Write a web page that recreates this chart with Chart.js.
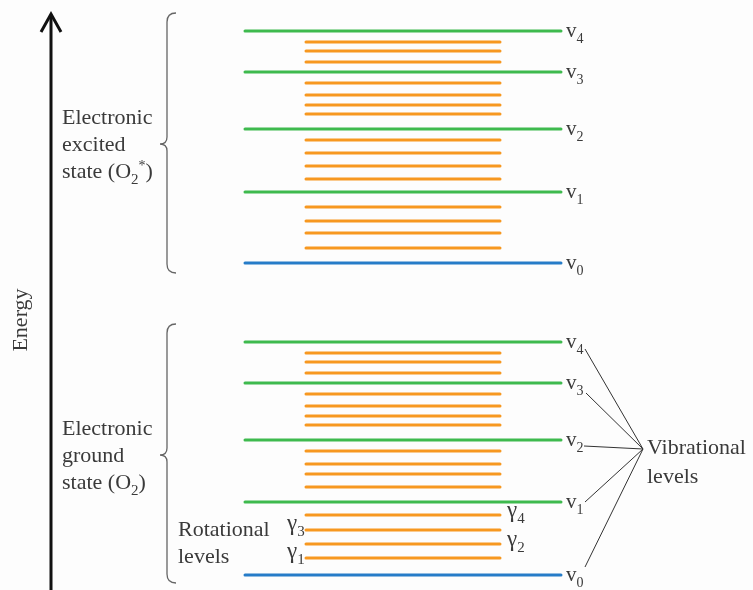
<!DOCTYPE html>
<html>
<head>
<meta charset="utf-8">
<script src="https://cdn.jsdelivr.net/npm/chart.js@4"></script>
<style>
  html, body { margin: 0; padding: 0; background: #fdfdfd; }
  canvas { display: block; }
</style>
</head>
<body>
<canvas id="levels" width="753" height="590"></canvas>
<script>
// energy values, arbitrary units (ground v0 = 0)
var groundVib = [0, 73, 135, 192, 233];               // v0..v4
var groundRot = [[17, 31, 45, 60], [88, 101, 111, 124], [150, 159, 169, 181], [202, 213, 222]];
var excitedVib = [312, 383, 446, 503, 544];
var excitedRot = [[327, 342, 354, 368], [396, 409, 422, 435], [461, 470, 480, 492], [513, 524, 533]];
var vibLabels = ["0", "1", "2", "3", "4"];
var gammaLabels = ["1", "2", "3", "4"];   // ground rotational lines between v0 and v1

var VIB_X = [245, 561];
var ROT_X = [306, 500];
var FONT = '"Liberation Serif", "DejaVu Serif", serif';
var INK = "#3a3a3a";

// build segments separated by gaps
function segs(levels, xr) {
  var pts = [];
  levels.forEach(function (e) {
    pts.push({x: xr[0], y: e}, {x: xr[1], y: e}, {x: xr[1], y: null});
  });
  return pts;
}
var rotAll = [];
groundRot.concat(excitedRot).forEach(function (g) { rotAll = rotAll.concat(g); });

function lineSet(data, color, width) {
  return {
    data: data, showLine: true, borderColor: color, backgroundColor: color,
    borderWidth: width, pointRadius: 0, spanGaps: false, borderCapStyle: "round"
  };
}

function drawSub(ctx, x, y, main, sub, size) {
  ctx.font = size + "px " + FONT;
  ctx.fillText(main, x, y);
  var w = ctx.measureText(main).width;
  ctx.font = Math.round(size * 0.66) + "px " + FONT;
  ctx.fillText(sub, x + w, y + size * 0.27);
  return x + w + ctx.measureText(sub).width;
}

function brace(ctx, x, top, mid, bottom) {
  ctx.beginPath();
  ctx.moveTo(x + 9, top);
  ctx.quadraticCurveTo(x, top, x, top + 9);
  ctx.lineTo(x, mid - 7);
  ctx.quadraticCurveTo(x, mid, x - 7, mid);
  ctx.quadraticCurveTo(x, mid, x, mid + 7);
  ctx.lineTo(x, bottom - 9);
  ctx.quadraticCurveTo(x, bottom, x + 9, bottom);
  ctx.stroke();
}

var annotate = {
  id: "annotate",
  beforeDraw: function (chart) {
    var c = chart.ctx;
    c.save();
    c.fillStyle = "#fdfdfd";
    c.fillRect(0, 0, chart.width, chart.height);
    c.restore();
  },
  afterDraw: function (chart) {
    var c = chart.ctx, ys = chart.scales.y;
    c.save();
    // energy arrow
    c.strokeStyle = "#111";
    c.lineWidth = 3;
    c.beginPath();
    c.moveTo(51, 590); c.lineTo(51, 15);
    c.stroke();
    c.beginPath();
    c.moveTo(41, 32); c.lineTo(51, 14); c.lineTo(61, 32);
    c.stroke();

    c.fillStyle = INK;
    c.save();
    c.translate(27, 320);
    c.rotate(-Math.PI / 2);
    c.font = "22px " + FONT;
    c.textAlign = "center";
    c.fillText("Energy", 0, 0);
    c.restore();

    // braces
    c.strokeStyle = "#666";
    c.lineWidth = 1.3;
    brace(c, 167, 13, 144, 273);
    brace(c, 167, 324, 455, 583);

    // state labels
    c.font = "22px " + FONT;
    c.fillText("Electronic", 62, 124);
    c.fillText("excited", 62, 151);
    var x = drawSub(c, 62, 178, "state (O", "2", 22);
    c.font = "14px " + FONT;
    c.fillText("*", x, 170);
    x += c.measureText("*").width;
    c.font = "22px " + FONT;
    c.fillText(")", x, 178);

    c.fillText("Electronic", 62, 435);
    c.fillText("ground", 62, 462);
    x = drawSub(c, 62, 489, "state (O", "2", 22);
    c.font = "22px " + FONT;
    c.fillText(")", x, 489);

    c.fillText("Rotational", 178, 536);
    c.fillText("levels", 178, 563);

    // vibrational labels
    [groundVib, excitedVib].forEach(function (arr) {
      arr.forEach(function (e, i) {
        drawSub(c, 566, ys.getPixelForValue(e) + 6, "v", vibLabels[i], 21);
      });
    });

    // gamma labels on ground v0 -> v1 rotational lines, odd left, even right
    groundRot[0].forEach(function (e, i) {
      var py = ys.getPixelForValue(e);
      if (i % 2 === 0) drawSub(c, 287, py, "\u03b3", gammaLabels[i], 23);
      else drawSub(c, 507, py + 2, "\u03b3", gammaLabels[i], 23);
    });

    // connectors to "Vibrational levels"
    var px = groundVib.map(function (e) { return ys.getPixelForValue(e); });
    var starts = [[585, px[0] - 8], [585, px[1]], [584, px[2] + 6], [586, px[3] + 10], [585, px[4] + 7]];
    c.strokeStyle = "#333";
    c.lineWidth = 1;
    starts.forEach(function (s) {
      c.beginPath();
      c.moveTo(s[0], s[1]);
      c.lineTo(643, 449);
      c.stroke();
    });
    c.font = "22px " + FONT;
    c.fillText("Vibrational", 647, 454);
    c.fillText("levels", 647, 483);
    c.restore();
  }
};

new Chart(document.getElementById("levels"), {
  type: "scatter",
  data: {
    datasets: [
      lineSet(segs(rotAll, ROT_X), "rgb(247, 152, 32)", 3),
      lineSet(segs(groundVib.slice(1).concat(excitedVib.slice(1)), VIB_X), "rgb(62, 186, 78)", 3),
      lineSet(segs([groundVib[0], excitedVib[0]], VIB_X), "rgb(38, 124, 200)", 3)
    ]
  },
  options: {
    responsive: false,
    animation: false,
    layout: { padding: 0 },
    plugins: { legend: { display: false }, tooltip: { enabled: false } },
    scales: {
      x: { display: false, min: 0, max: 753 },
      y: { display: false, min: -15, max: 575 }
    }
  },
  plugins: [annotate]
});
</script>
</body>
</html>
